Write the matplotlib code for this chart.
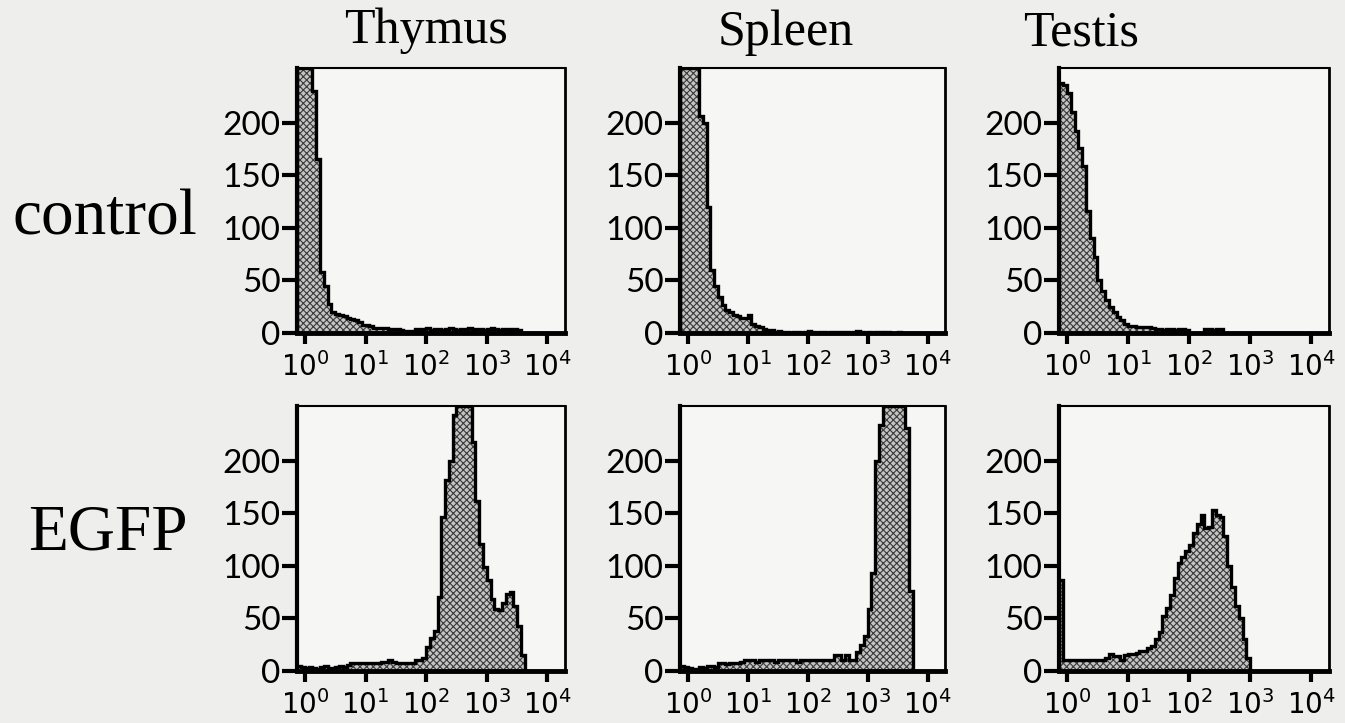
import numpy as np
import matplotlib
matplotlib.use('Agg')
import matplotlib.pyplot as plt

# FACS channels: 1/16-decade bins on a log scale
log_edges = -0.125 + 0.0625 * np.arange(69)

organs = ['Thymus', 'Spleen', 'Testis']
rows = ['control', 'EGFP']
ytick_vals = [0, 50, 100, 150, 200]
xtick_exp = [0, 1, 2, 3, 4]

thymus_ctrl = [260, 260, 260, 260, 230, 165, 58, 45, 28, 20,
               18, 17, 16, 14, 13, 12, 10, 8, 8, 7,
               5, 5, 5, 5, 4, 4, 4, 3, 2, 2, 2,
               4, 3, 4, 5, 3, 4, 4, 3, 4, 5, 4, 3, 4, 4, 5, 3, 4, 4, 3, 4, 5, 4, 3, 4, 4, 3, 4, 3,
               0, 0, 0, 0, 0, 0, 0, 0, 0]
spleen_ctrl = [260, 260, 260, 260, 260, 206, 200, 120, 60, 45,
               34, 27, 22, 20, 17, 16, 14, 14, 17, 9,
               7, 6, 4, 3, 3, 1, 2,
               1, 1, 0, 1, 1, 0, 1, 2, 1, 0, 1, 1, 0, 1, 1, 0, 1, 1, 0, 1, 2, 1, 0, 1, 0, 1, 1, 0, 1, 0, 0, 1, 0,
               0, 0, 0, 0, 0, 0, 0, 0]
testis_ctrl = [238, 236, 228, 210, 192, 176, 159, 116, 90, 72,
               50, 40, 31, 25, 20, 15, 12, 9, 7, 7,
               6, 6, 6, 6, 5,
               4, 4, 3, 4, 4, 3, 4, 4, 3,
               0, 0, 0, 0,
               4, 4, 3, 4, 4,
               0, 0, 0, 0, 0, 0, 0, 0, 0, 0, 0, 0, 0, 0, 0, 0, 0, 0, 0, 0, 0, 0, 0, 0, 0]
thymus_egfp = [5, 4, 3, 4, 3, 2, 4, 5, 3, 3, 4, 5, 4, 6,
               8, 8, 8, 8, 8, 8, 8, 8, 9, 9, 10, 9, 8, 8, 8, 8, 8,
               10, 10, 12,
               23, 31, 38, 70, 146, 182, 200, 243, 260, 260, 260, 260,
               218, 162, 121, 99, 87, 68, 59, 58, 65, 73, 75, 62, 43, 15,
               0, 0, 0, 0, 0, 0, 0, 0]
spleen_egfp = [5, 4, 3, 0, 2, 4, 3, 5, 5, 4,
               8, 8, 7, 8, 8, 8, 9,
               10, 10, 10, 9, 10, 10, 10, 10, 9, 10, 10, 10, 10, 10, 9, 10, 10, 10, 10, 10, 10, 10,
               10, 10, 15, 15, 10, 15, 10, 10,
               18, 25, 33, 59, 93, 200, 234,
               260, 260, 260, 260, 260, 260,
               231, 76,
               0, 0, 0, 0, 0, 0]
testis_egfp = [87,
               10, 10, 10, 10, 10, 10, 10, 10, 10, 10,
               10, 12, 16, 14, 14, 10, 15, 16, 16, 17,
               19, 19, 22, 24, 30, 37, 52, 60, 72, 88,
               103, 108, 114, 120, 131, 140, 148, 136, 137, 153,
               148, 146, 128, 100, 80, 62, 50, 30, 12,
               0, 0, 0, 0, 0, 0, 0, 0, 0, 0, 0, 0, 0, 0, 0, 0, 0, 0]

counts = [[thymus_ctrl, spleen_ctrl, testis_ctrl],
          [thymus_egfp, spleen_egfp, testis_egfp]]

plt.rcParams['hatch.linewidth'] = 0.8
plt.rcParams['mathtext.fontset'] = 'custom'
plt.rcParams['mathtext.rm'] = 'Lato'

paper = '#eeeeec'
fig = plt.figure(figsize=(13.45, 7.23), dpi=100, facecolor=paper)
W, H = 1345.0, 723.0

col_left = [297, 680, 1059]
col_width = [268, 265, 270]
row_top = [68, 406]
row_h = 265
ymax = 252
edges = 10 ** log_edges

for r in range(2):
    for c in range(3):
        ax = fig.add_axes([col_left[c] / W, 1 - (row_top[r] + row_h) / H,
                           col_width[c] / W, row_h / H])
        ax.set_facecolor('#f6f6f4')
        vals = np.minimum(np.array(counts[r][c], dtype=float), ymax)
        ax.stairs(vals, edges, fill=True, facecolor='#c4c4c4', edgecolor='#3a3a3a',
                  hatch='xxxxx', linewidth=0)
        ax.stairs(vals, edges, color='k', linewidth=2.4)
        ax.set_xscale('log')
        ax.set_xlim(10 ** -0.13, 10 ** 4.29)
        ax.set_ylim(0, ymax)
        ax.set_xticks([10.0 ** e for e in xtick_exp])
        ax.set_xticklabels([r'$\mathregular{10^{%d}}$' % e for e in xtick_exp])
        ax.xaxis.set_minor_locator(matplotlib.ticker.NullLocator())
        ax.set_yticks(ytick_vals)
        ax.set_yticklabels([str(v) for v in ytick_vals])
        ax.tick_params(axis='y', direction='out', length=11, width=3, pad=1,
                       labelsize=24, labelfontfamily='Lato')
        ax.tick_params(axis='x', direction='out', length=8, width=3, pad=6,
                       labelsize=20)
        ax.spines['left'].set_linewidth(3)
        ax.spines['bottom'].set_linewidth(3.5)
        ax.spines['top'].set_linewidth(1.5)
        ax.spines['right'].set_linewidth(2)

title_x = [426, 786, 1081]
title_y = [43, 45, 45]
for c in range(3):
    fig.text(title_x[c] / W, 1 - title_y[c] / H, organs[c], ha='center',
             va='baseline', fontsize=36, family='Liberation Serif')

row_x = [105, 108]
row_y = [235, 550]
for r in range(2):
    fig.text(row_x[r] / W, 1 - row_y[r] / H, rows[r], ha='center',
             va='baseline', fontsize=47, family='Liberation Serif')

fig.savefig('out.png', dpi=100, facecolor=paper)
